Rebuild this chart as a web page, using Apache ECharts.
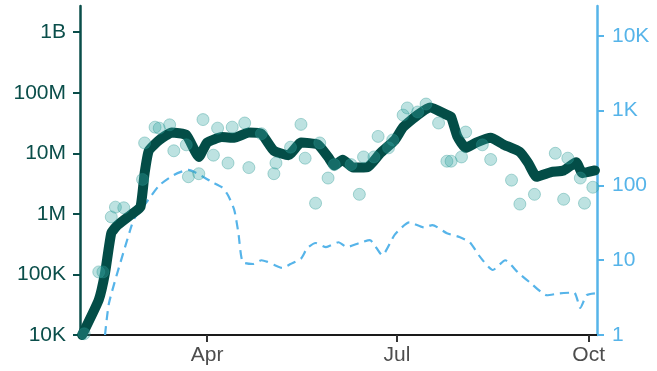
<!DOCTYPE html>
<html>
<head>
<meta charset="utf-8">
<script src="https://cdn.jsdelivr.net/npm/echarts@6/dist/echarts.min.js"></script>
<style>html,body{margin:0;padding:0;background:#fff}#c{width:657px;height:371px}</style>
</head>
<body>
<div id="c"></div>
<script>
// Smoothed series (left axis)
const lineDates = ['2020-02-01','2020-02-09','2020-02-12','2020-02-15','2020-02-18','2020-02-25','2020-02-29','2020-03-02','2020-03-04','2020-03-09','2020-03-15','2020-03-22','2020-03-28','2020-04-01','2020-04-08','2020-04-14','2020-04-21','2020-04-27','2020-05-03','2020-05-10','2020-05-16','2020-05-24','2020-05-29','2020-06-01','2020-06-05','2020-06-10','2020-06-17','2020-06-23','2020-06-30','2020-07-04','2020-07-11','2020-07-17','2020-07-25','2020-07-27','2020-07-30','2020-08-03','2020-08-08','2020-08-15','2020-08-21','2020-08-29','2020-09-02','2020-09-06','2020-09-13','2020-09-19','2020-09-25','2020-09-28','2020-10-04'];
const lineValues = [10000,38000,105000,480000,650000,1000000,1300000,4700000,11000000,16500000,22000000,20000000,8700000,15000000,18500000,18000000,22000000,21000000,11000000,9300000,15000000,14000000,8700000,6300000,7800000,5800000,5900000,10000000,16500000,27000000,43000000,57000000,43000000,40000000,19000000,12300000,15000000,18000000,14000000,10500000,6900000,4100000,4900000,5200000,7100000,4700000,5200000];

// Daily points (left axis)
const pointDates = ['2020-02-02','2020-02-09','2020-02-11','2020-02-15','2020-02-17','2020-02-21','2020-03-01','2020-03-02','2020-03-07','2020-03-09','2020-03-14','2020-03-16','2020-03-22','2020-03-23','2020-03-28','2020-03-30','2020-04-04','2020-04-06','2020-04-11','2020-04-13','2020-04-19','2020-04-21','2020-04-27','2020-05-03','2020-05-04','2020-05-11','2020-05-16','2020-05-18','2020-05-23','2020-05-25','2020-05-29','2020-06-01','2020-06-09','2020-06-13','2020-06-15','2020-06-20','2020-06-22','2020-06-27','2020-06-29','2020-07-04','2020-07-06','2020-07-11','2020-07-15','2020-07-21','2020-07-25','2020-07-27','2020-08-01','2020-08-03','2020-08-11','2020-08-15','2020-08-25','2020-08-29','2020-09-05','2020-09-15','2020-09-19','2020-09-21','2020-09-27','2020-09-29','2020-10-03'];
const pointValues = [10500,110000,110000,890000,1290000,1260000,3700000,14800000,27000000,26000000,29500000,11000000,13800000,4100000,4600000,36000000,9300000,26000000,6900000,27000000,31600000,5800000,21000000,4600000,6900000,12600000,30000000,8300000,1500000,14800000,3900000,6500000,6500000,2100000,8700000,8700000,19000000,12300000,16600000,42700000,56000000,48000000,65000000,31600000,7400000,7400000,8700000,22400000,13800000,7900000,3600000,1450000,2100000,10000000,1740000,8300000,3900000,1500000,2750000];

// Dashed series (right axis)
const dashDates = ['2020-02-12','2020-02-14','2020-02-24','2020-02-26','2020-03-02','2020-03-09','2020-03-16','2020-03-23','2020-03-31','2020-04-03','2020-04-08','2020-04-11','2020-04-14','2020-04-16','2020-04-18','2020-04-23','2020-04-27','2020-04-30','2020-05-03','2020-05-07','2020-05-11','2020-05-16','2020-05-19','2020-05-23','2020-05-28','2020-06-03','2020-06-07','2020-06-13','2020-06-18','2020-06-24','2020-06-30','2020-07-07','2020-07-14','2020-07-18','2020-07-25','2020-07-31','2020-08-05','2020-08-10','2020-08-16','2020-08-22','2020-08-28','2020-09-03','2020-09-11','2020-09-17','2020-09-24','2020-09-27','2020-09-30','2020-10-04'];
const dashValues = [1,2.75,25,36,55,100,138,162,126,112,95,74,47,23,9.5,8.9,10,9.5,8.7,7.9,8.9,10.5,14.5,17,15,17.4,15,17,18.6,11.7,22,32,27.5,29.5,23,20.4,17.4,11,7.4,10,6.9,5,3.4,3.6,3.7,2.3,3.4,3.6];

// Tick labels
const xTickDates = ['2020-04-01','2020-07-01','2020-10-01'];
const xTickLabels = ['Apr','Jul','Oct'];
const leftTickLabels = {4:'10K',5:'100K',6:'1M',7:'10M',8:'100M',9:'1B'};
const rightTickLabels = {0:'1',1:'10',2:'100',3:'1K',4:'10K'};

const ts = s => Date.parse(s + 'T00:00:00Z');
const zip = (a, b) => a.map((d, i) => [ts(d), b[i]]);
const fnt = 'Liberation Sans, Arial, Helvetica, sans-serif';
const teal = '#0a4e4a';
const blue = '#56b4e9';
const xTickTs = xTickDates.map(ts);

function logLabel(map) {
  return function (v) {
    const l = Math.round(Math.log10(v) * 1000) / 1000;
    return (Number.isInteger(l) && map[l] !== undefined) ? map[l] : '';
  };
}

const chart = echarts.init(document.getElementById('c'), null, {renderer: 'canvas'});
chart.setOption({
  animation: false,
  backgroundColor: '#ffffff',
  grid: {left: 80, right: 60, top: 6, bottom: 36, containLabel: false},
  xAxis: {
    type: 'value',
    min: ts('2020-01-31'),
    max: ts('2020-10-05'),
    axisLine: {show: true, lineStyle: {color: '#1a1a1a', width: 2}},
    axisTick: {show: true, length: 7, lineStyle: {color: '#333', width: 2}, customValues: xTickTs},
    axisLabel: {
      show: true, margin: 10, color: '#4d4d4d', fontSize: 21, fontFamily: fnt,
      customValues: xTickTs,
      formatter: function (v) {
        let best = -1, bd = Infinity;
        xTickTs.forEach((t, i) => { const d = Math.abs(t - v); if (d < bd) { bd = d; best = i; } });
        return bd < 86400000 ? xTickLabels[best] : '';
      }
    },
    splitLine: {show: false}
  },
  yAxis: [{
    type: 'log',
    logBase: 10,
    min: 10000,
    max: 2.7e9,
    position: 'left',
    axisLine: {show: true, lineStyle: {color: teal, width: 2.5}},
    axisTick: {show: true, length: 7, lineStyle: {color: teal, width: 2}},
    axisLabel: {show: true, margin: 14, color: teal, fontSize: 21, fontFamily: fnt, showMaxLabel: false, formatter: logLabel(leftTickLabels)},
    splitLine: {show: false}
  }, {
    type: 'log',
    logBase: 10,
    min: 1,
    max: 25119,
    position: 'right',
    axisLine: {show: true, lineStyle: {color: blue, width: 2.5}},
    axisTick: {show: true, length: 7, lineStyle: {color: blue, width: 2}},
    axisLabel: {show: true, margin: 15, color: blue, fontSize: 21, fontFamily: fnt, showMaxLabel: false, formatter: logLabel(rightTickLabels)},
    splitLine: {show: false}
  }],
  series: [{
    type: 'line',
    yAxisIndex: 1,
    data: zip(dashDates, dashValues),
    showSymbol: false,
    smooth: 0.2,
    lineStyle: {color: blue, width: 2.2, type: [9, 6]},
    z: 1
  }, {
    type: 'line',
    yAxisIndex: 0,
    data: zip(lineDates, lineValues),
    showSymbol: false,
    smooth: 0.15,
    lineStyle: {color: '#034d47', width: 10, cap: 'round', join: 'round'},
    z: 2
  }, {
    type: 'scatter',
    yAxisIndex: 0,
    data: zip(pointDates, pointValues),
    symbolSize: 12,
    itemStyle: {color: 'rgba(58,170,165,0.42)', borderColor: 'rgba(40,150,145,0.45)', borderWidth: 1},
    z: 3
  }]
});
</script>
</body>
</html>
